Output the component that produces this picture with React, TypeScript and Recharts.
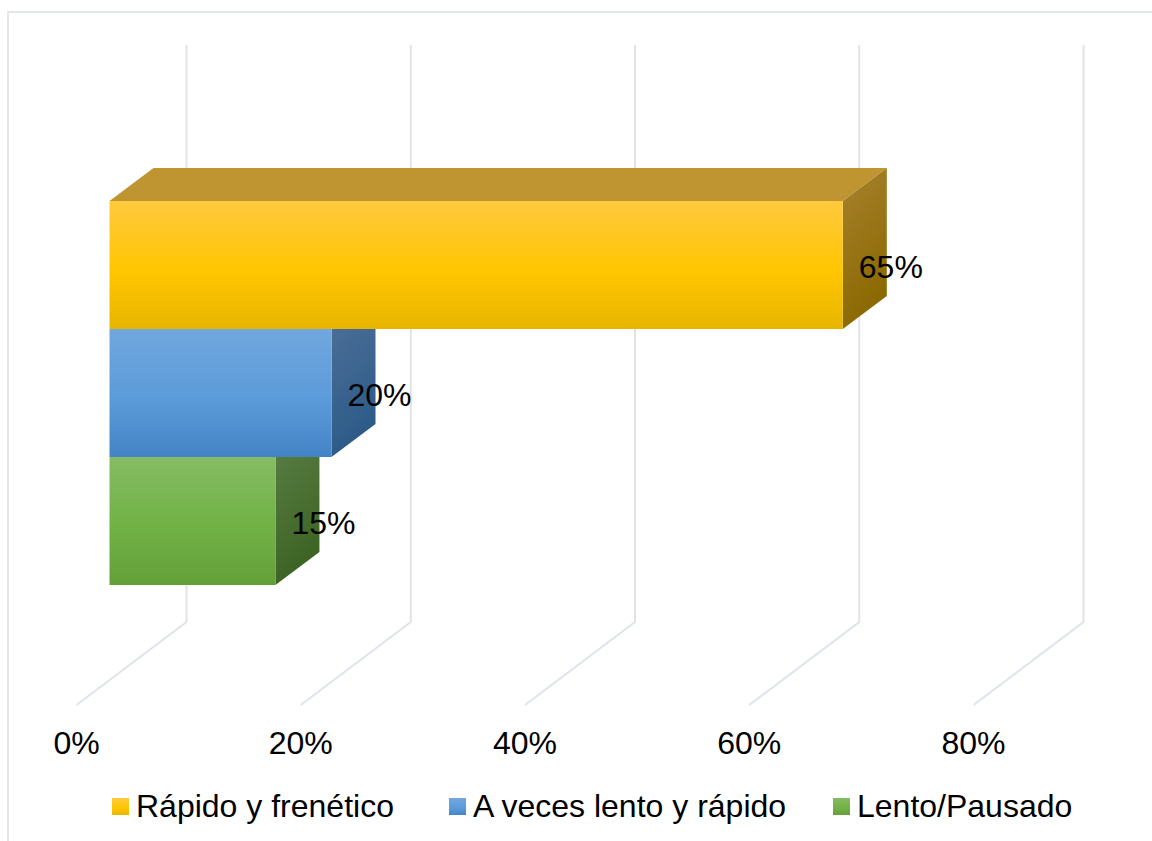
import { Bar, BarChart, CartesianGrid, LabelList, Legend, XAxis, YAxis } from "recharts";

const categories = ["Ritmo"];
const seriesNames = ["Rápido y frenético", "A veces lento y rápido", "Lento/Pausado"];
const seriesValues = [65.4, 19.8, 14.8];
const axisTicks = [0, 20, 40, 60, 80];

const palettes = [
  { id: "rapido", light: "#FFC93E", mid: "#FFC600", dark: "#E8B500", sideTop: "#A8822F", sideBottom: "#8A6800", topFace: "#BF9531" },
  { id: "veces", light: "#71A7DE", mid: "#5B9BD9", dark: "#4484C6", sideTop: "#4A6E96", sideBottom: "#2B5A88", topFace: null },
  { id: "lento", light: "#86BC64", mid: "#70B145", dark: "#64A039", sideTop: "#567B42", sideBottom: "#3C6222", topFace: null },
];

const data = categories.map((name) => ({
  name,
  s0: seriesValues[0],
  s1: seriesValues[1],
  s2: seriesValues[2],
}));

const FONT = "'Liberation Sans', Arial, sans-serif";
const FONT_SIZE = 32;
const BAR_SHIFT = 33; // bars sit part way into the floor
const BAR_DX = 44;
const BAR_DY = 33;
const WALL_DX = 110;
const WALL_DY = 83;
const WALL_TOP = 45;

function Bar3D(props: any) {
  const { x, y, width, height, palette } = props;
  const left = x + BAR_SHIFT;
  const right = left + width;
  const bottom = y + height;
  // only the top bar shows its upper faces, the others are hidden by the bar above
  const sideTop = palette.topFace ? `${right},${y} ${right + BAR_DX},${y - BAR_DY}` : `${right},${y} ${right + BAR_DX},${y}`;
  return (
    <g>
      {palette.topFace && (
        <polygon
          points={`${left},${y} ${left + BAR_DX},${y - BAR_DY} ${right + BAR_DX},${y - BAR_DY} ${right},${y}`}
          fill={palette.topFace}
        />
      )}
      <polygon
        points={`${sideTop} ${right + BAR_DX},${bottom - BAR_DY} ${right},${bottom}`}
        fill={`url(#side-${palette.id})`}
      />
      <rect x={left} y={y} width={width} height={height} fill={`url(#front-${palette.id})`} />
    </g>
  );
}

function WallLine(props: any) {
  const { x1, y2 } = props;
  return (
    <polyline
      points={`${x1},${y2} ${x1 + WALL_DX},${y2 - WALL_DY} ${x1 + WALL_DX},${WALL_TOP}`}
      fill="none"
      stroke="#DFE3EB"
      strokeWidth={2}
    />
  );
}

function ChartLegend() {
  const lefts = [112, 449, 833];
  return (
    <div style={{ position: "relative", height: 76, fontFamily: FONT, fontSize: FONT_SIZE, color: "#000" }}>
      {seriesNames.map((name, i) => {
        const p = palettes[i];
        return (
          <div key={name} style={{ position: "absolute", left: lefts[i], top: 22, display: "flex", alignItems: "center", whiteSpace: "nowrap", lineHeight: "38px" }}>
            <span
              style={{
                display: "inline-block",
                width: 17,
                height: 17,
                marginRight: 7,
                background: `linear-gradient(${p.light}, ${p.mid} 60%, ${p.dark})`,
              }}
            />
            {name}
          </div>
        );
      })}
    </div>
  );
}

export default function App() {
  return (
    <div style={{ position: "fixed", left: 0, top: 0, width: 1152, height: 841, overflow: "hidden", background: "#fff" }}>
      <div style={{ position: "absolute", left: 7, top: 11, width: 1200, height: 900, borderLeft: "2px solid #E3E6EB", borderTop: "2px solid #E3E6EB" }} />
      <div style={{ position: "absolute", left: 0, top: 0 }}>
        <BarChart
          width={1152}
          height={841}
          data={data}
          layout="vertical"
          barGap={0}
          barSize={128}
          margin={{ top: 81, right: 178.5, bottom: 0, left: 76.5 }}
          style={{ fontFamily: FONT }}
        >
          <defs>
            {palettes.map((p) => (
              <linearGradient key={`front-${p.id}`} id={`front-${p.id}`} x1="0" y1="0" x2="0" y2="1">
                <stop offset="0%" stopColor={p.light} />
                <stop offset="55%" stopColor={p.mid} />
                <stop offset="100%" stopColor={p.dark} />
              </linearGradient>
            ))}
            {palettes.map((p) => (
              <linearGradient key={`side-${p.id}`} id={`side-${p.id}`} x1="0" y1="0" x2="0.3" y2="1">
                <stop offset="0%" stopColor={p.sideTop} />
                <stop offset="100%" stopColor={p.sideBottom} />
              </linearGradient>
            ))}
          </defs>
          <CartesianGrid horizontal={false} vertical={(props: any) => <WallLine key={props.key} {...props} />} />
          <XAxis
            type="number"
            domain={[0, 80]}
            ticks={axisTicks}
            height={60}
            axisLine={false}
            tickLine={false}
            tickMargin={20}
            tick={{ fill: "#000", fontSize: FONT_SIZE }}
            tickFormatter={(v) => `${v}%`}
          />
          <YAxis type="category" dataKey="name" hide />
          <Legend verticalAlign="bottom" height={76} width={1152} wrapperStyle={{ left: 0 }} content={<ChartLegend />} />
          {seriesNames.map((name, i) => (
            <Bar
              key={name}
              dataKey={`s${i}`}
              name={name}
              isAnimationActive={false}
              shape={(props: any) => <Bar3D {...props} palette={palettes[i]} />}
            >
              <LabelList
                dataKey={`s${i}`}
                position="right"
                offset={49}
                dy={2}
                fill="#000"
                fontSize={FONT_SIZE}
                formatter={(v: any) => `${Math.round(v)}%`}
              />
            </Bar>
          ))}
        </BarChart>
      </div>
    </div>
  );
}
